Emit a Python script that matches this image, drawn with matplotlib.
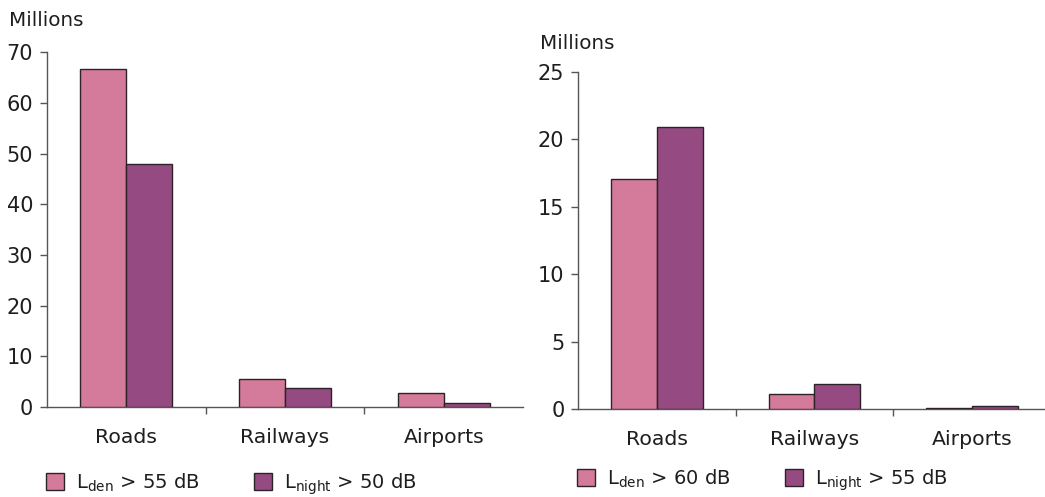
import matplotlib.pyplot as plt
import numpy as np

plt.rcParams['font.family'] = 'DejaVu Sans'
plt.rcParams['mathtext.default'] = 'regular'

categories = ['Roads', 'Railways', 'Airports']

# population exposed, millions
lden_55 = [66.7, 5.5, 2.7]
lnight_50 = [47.9, 3.8, 0.7]
lden_60 = [17.1, 1.15, 0.07]
lnight_55 = [20.95, 1.85, 0.25]

pink = '#d47b9b'
purple = '#964a82'
edge = '#2e2229'
axis_col = '#555555'
text_col = '#1e1e1e'

fig = plt.figure(figsize=(10.45, 4.97), dpi=100)


def draw_panel(rect, a, b, ymax, ystep, labels, millions_xy, legend_xy):
    ax = fig.add_axes(rect)
    x = np.arange(len(categories))
    w = 0.29
    ax.bar(x - w / 2, a, w, color=pink, edgecolor=edge, linewidth=1.0, label=labels[0], zorder=3)
    ax.bar(x + w / 2, b, w, color=purple, edgecolor=edge, linewidth=1.0, label=labels[1], zorder=3)
    ax.set_xlim(-0.5, len(categories) - 0.5)
    ax.set_ylim(0, ymax)
    ax.set_yticks(np.arange(0, ymax + 1, ystep))
    # boundary ticks between groups, labels centred under each group
    ax.set_xticks([0.5, 1.5])
    ax.set_xticklabels([])
    ax.set_xticks(x, minor=True)
    ax.set_xticklabels(categories, minor=True)
    ax.tick_params(axis='x', which='major', length=5, width=1, color=axis_col, direction='out')
    ax.tick_params(axis='x', which='minor', length=0, pad=15, labelsize=14.7, labelcolor=text_col)
    ax.tick_params(axis='y', length=5, width=1, color=axis_col, pad=5, labelsize=15, labelcolor=text_col)
    for s in ('top', 'right'):
        ax.spines[s].set_visible(False)
    for s in ('left', 'bottom'):
        ax.spines[s].set_color(axis_col)
        ax.spines[s].set_linewidth(1.0)
    fig.text(millions_xy[0], millions_xy[1], 'Millions', fontsize=14.3, color=text_col,
             ha='left', va='center')
    ax.legend(loc='upper left', bbox_to_anchor=legend_xy, bbox_transform=fig.transFigure,
              ncol=2, frameon=False, fontsize=14, handlelength=0.95, handleheight=0.95,
              handletextpad=0.6, columnspacing=2.8, borderaxespad=0, borderpad=0,
              labelcolor=text_col)
    return ax


draw_panel([0.045, 0.181, 0.4555, 0.714], lden_55, lnight_50, 70, 10,
           ['L$_{den}$ > 55 dB', 'L$_{night}$ > 50 dB'],
           (0.009, 0.958), (0.044, 0.052))

draw_panel([0.5534, 0.1764, 0.452, 0.6787], lden_60, lnight_55, 25, 5,
           ['L$_{den}$ > 60 dB', 'L$_{night}$ > 55 dB'],
           (0.517, 0.912), (0.552, 0.060))

fig.savefig('out.png', dpi=100)
